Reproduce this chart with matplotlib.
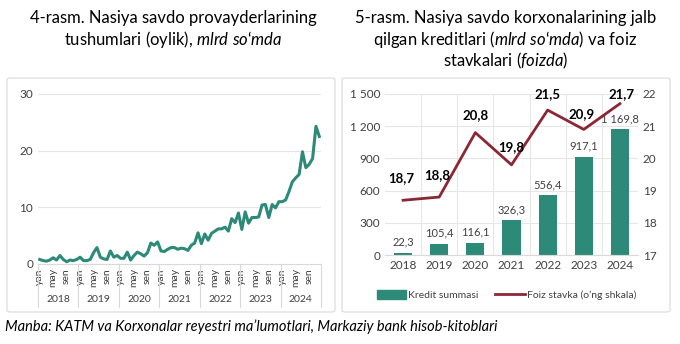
import numpy as np
import matplotlib
matplotlib.use("Agg")
import matplotlib.pyplot as plt
from matplotlib.patches import FancyBboxPatch
from matplotlib.lines import Line2D
from matplotlib.patches import Patch

plt.rcParams['font.family'] = ['Lato', 'DejaVu Sans']
plt.rcParams['mathtext.fontset'] = 'custom'
plt.rcParams['mathtext.rm'] = 'Lato'
plt.rcParams['mathtext.it'] = 'Lato:italic'

# left chart: monthly revenue of BNPL providers, bln sum
years = ['2018', '2019', '2020', '2021', '2022', '2023', '2024']
month_labels = {0: 'yan', 4: 'may', 8: 'sen'}
revenue = [
    0.8, 0.6, 0.5, 0.7, 1.1, 0.7, 1.5, 0.8, 0.4, 0.7, 0.6, 0.8,
    1.2, 0.6, 0.6, 0.8, 2.0, 2.9, 1.2, 0.9, 0.8, 2.3, 1.2, 1.5,
    1.0, 1.0, 2.1, 0.7, 1.5, 2.1, 1.8, 1.4, 2.0, 3.7, 3.3, 3.9,
    2.3, 2.2, 2.6, 2.9, 2.9, 2.6, 2.8, 2.7, 2.4, 3.3, 3.7, 5.5,
    3.6, 5.3, 4.2, 5.4, 5.8, 6.2, 6.2, 6.5, 5.8, 8.0, 7.3, 9.0,
    6.1, 9.2, 7.2, 8.2, 8.2, 8.3, 10.4, 10.5, 8.2, 10.5, 9.9, 11.0,
    11.0, 11.3, 12.8, 14.5, 15.2, 15.8, 19.8, 17.0, 17.6, 18.6, 24.3, 22.5,
]

# right chart: credits (bln sum) and interest rate (%)
credit = [22.3, 105.4, 116.1, 326.3, 556.4, 917.1, 1169.8]
rate = [18.7, 18.8, 20.8, 19.8, 21.5, 20.9, 21.7]

teal = '#2E8A78'
maroon = '#8B2635'
grid_c = '#E6E6E6'
txt = '#404040'


def fmt(v):
    s = f'{v:,.1f}'.replace(',', ' ').replace('.', ',')
    return s


fig = plt.figure(figsize=(6.8, 3.44), dpi=100)

# chart frames
for x0 in (7 / 680, 342 / 680):
    fig.patches.append(FancyBboxPatch((x0, 32 / 344), 328 / 680, 234 / 344,
                                      boxstyle='round,pad=0,rounding_size=0.005',
                                      transform=fig.transFigure, fc='white',
                                      ec='#D9D9D9', lw=0.8, zorder=-5))

# titles
tkw = dict(ha='center', va='center', fontsize=12)
fig.text(0.255, 1 - 18 / 344, '4-rasm. Nasiya savdo provayderlarining', **tkw)
fig.text(0.255, 1 - 40 / 344, 'tushumlari (oylik), $\\mathit{mlrd\\ so\u2018mda}$', **tkw)
fig.text(0.743, 1 - 18 / 344, '5-rasm. Nasiya savdo korxonalarining jalb', **tkw)
fig.text(0.743, 1 - 40 / 344, 'qilgan kreditlari $\\mathit{(mlrd\\ so\u2018mda)}$ va foiz', **tkw)
fig.text(0.743, 1 - 61 / 344, 'stavkalari $\\mathit{(foizda)}$', **tkw)

# ---- left chart
ax = fig.add_axes([38 / 680, 1 - 264 / 344, 283 / 680, 170 / 344])
x = np.arange(len(revenue))
ax.plot(x, revenue, color=teal, lw=2.2, solid_joinstyle='round')
ax.set_xlim(-0.5, len(revenue) - 0.5)
ax.set_ylim(0, 30)
ax.set_yticks([0, 10, 20, 30])
ax.yaxis.grid(True, color=grid_c, lw=0.8)
ax.set_axisbelow(True)
for s in ('top', 'right', 'left'):
    ax.spines[s].set_visible(False)
ax.spines['bottom'].set_color('#D9D9D9')
ticks = [i for i in x if i % 12 in month_labels]
ax.set_xticks(ticks)
ax.set_xticklabels([month_labels[i % 12] for i in ticks], rotation=90, fontsize=7.5, color=txt)
ax.tick_params(axis='x', length=0, pad=3)
ax.tick_params(axis='y', length=0, labelsize=8.5, labelcolor=txt)
tr = ax.get_xaxis_transform()
for k, yr in enumerate(years):
    ax.text(12 * k + 5.5, -0.21, yr, transform=tr, ha='center', va='center', fontsize=7.5, color=txt)
for k in range(len(years) + 1):
    ax.plot([12 * k - 0.5] * 2, [0, -0.25], transform=tr, color='#D9D9D9', lw=0.8, clip_on=False)

# ---- right chart
ax2 = fig.add_axes([385 / 680, 1 - 255 / 344, 253 / 680, 161 / 344])
xb = np.arange(len(years))
ax2.bar(xb, credit, width=0.5, color=teal, zorder=2)
ax2.set_xlim(-0.5, len(years) - 0.5)
ax2.set_ylim(0, 1500)
ax2.set_yticks(np.arange(0, 1501, 300))
ax2.set_yticklabels([f'{v:,}'.replace(',', ' ') for v in range(0, 1501, 300)])
ax2.set_xticks(xb)
ax2.set_xticklabels(years)
ax2.yaxis.grid(True, color=grid_c, lw=0.8)
for b in np.arange(0.5, len(years) - 0.5):
    ax2.axvline(b, color=grid_c, lw=0.8, zorder=0)
ax2.set_axisbelow(True)
for s in ax2.spines.values():
    s.set_visible(False)
ax2.spines['bottom'].set_visible(True)
ax2.spines['bottom'].set_color('#D9D9D9')
ax2.tick_params(length=0, labelsize=8.5, labelcolor=txt)
for xi, v in zip(xb, credit):
    ax2.text(xi, v + 45, fmt(v), ha='center', va='bottom', fontsize=8, color=txt)

ax3 = ax2.twinx()
ax3.plot(xb, rate, color=maroon, lw=2, zorder=3)
ax3.set_ylim(17, 22)
ax3.set_yticks(range(17, 23))
for s in ax3.spines.values():
    s.set_visible(False)
ax3.tick_params(length=0, labelsize=8.5, labelcolor=txt)
offs = [(-0.05, 0.5), (-0.05, 0.5), (0.0, 0.35), (0.0, 0.35), (0.0, 0.3), (-0.05, 0.3), (0.05, 0.1)]
for xi, v, (dx, dy) in zip(xb, rate, offs):
    ax3.text(xi + dx, v + dy, fmt(v), ha='center', va='bottom', fontsize=9.5,
             fontweight='bold', color='black')

handles = [Patch(color=teal), Line2D([0], [0], color=maroon, lw=2)]
fig.legend(handles, ['Kredit summasi', 'Foiz stavka (o\u2019ng shkala)'], loc='center',
           bbox_to_anchor=(0.745, 0.142), ncol=2, frameon=False, fontsize=7.5,
           handlelength=2.8, handleheight=0.9, columnspacing=1.6, handletextpad=0.2,
           labelcolor=txt)

fig.text(0.008, 0.05, "Manba: KATM va Korxonalar reyestri ma\u2019lumotlari, Markaziy bank hisob-kitoblari",
         ha='left', va='center', fontsize=10.5, style='italic')

fig.savefig('out.png', dpi=100)
